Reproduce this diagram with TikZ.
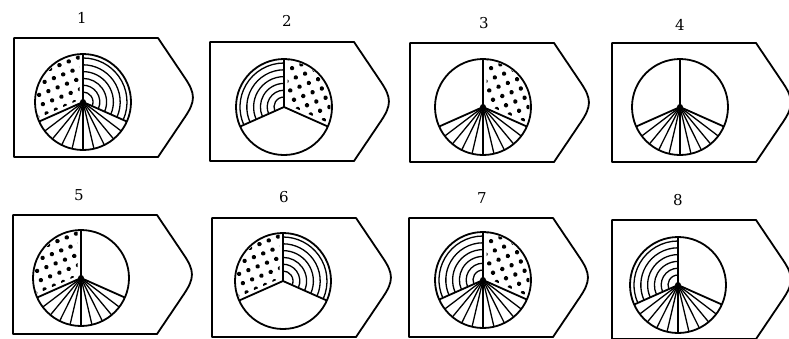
\documentclass[tikz,border=0pt]{standalone}
\usepackage{fontspec}
\setmainfont{DejaVu Serif}
\begin{document}
\tikzset{
  boxline/.style={line width=1.8pt, line join=round},
  pieline/.style={line width=1.8pt},
  thinline/.style={line width=1.3pt},
  lbl/.style={font=\fontsize{15}{18}\selectfont, inner sep=0pt},
}
\newcommand\panelbox[2]{%
  \draw[boxline] (#1,#2) -- ({#1+144},#2) -- ({#1+171},{#2+40})
    .. controls ({#1+181.6},{#2+55.8}) and ({#1+181.6},{#2+63.2}) .. ({#1+171},{#2+79})
    -- ({#1+144},{#2+119}) -- (#1,{#2+119}) -- cycle;}
\newcommand\dotgrid{%
  \begin{scope}[rotate=-22]
    \foreach \ii in {-6,...,6}{\foreach \jj in {-6,...,6}{\fill (\ii*10+2,\jj*10+3) circle (2.2);}}
  \end{scope}}
\newcommand\ulDots{\begin{scope}
  \clip (0,0) circle (46.5);
  \clip (-60,-60) rectangle (-3.5,60);
  \clip[rotate=-204] (-100,-100) rectangle (100,-3.5);
  \dotgrid\end{scope}}
\newcommand\urDots{\begin{scope}
  \clip (0,0) circle (46.5);
  \clip (3.5,-60) rectangle (60,60);
  \clip[rotate=24] (-100,3.5) rectangle (100,100);
  \dotgrid\end{scope}}
\newcommand\ulArcs{\foreach \rr in {10,16.8,23.6,30.4,37.2,44}{\draw[thinline] (90:\rr) arc[start angle=90,end angle=204,radius=\rr];}}
\newcommand\urArcs{\foreach \rr in {10,16.8,23.6,30.4,37.2,44}{\draw[thinline] (-24:\rr) arc[start angle=-24,end angle=90,radius=\rr];}}
\newcommand\botFan{\foreach \kk in {1,...,9}{\draw[thinline] (0,0) -- ({204+13.2*\kk}:48);}\fill (0,0) circle (3);}
\newcommand\pieframe{\draw[pieline] (0,0) circle (48); \draw[pieline] (90:48) -- (0,0) -- (204:48) (0,0) -- (-24:48);}
\begin{tikzpicture}[x=1pt,y=-1pt]
\useasboundingbox (0,0) rectangle (789,338);
\clip (0,0) rectangle (789,338);
% labels
\node[lbl] (l1) at (82,18) {1};
\node[lbl] (l2) at (287,21) {2};
\node[lbl] (l3) at (484,23) {3};
\node[lbl] (l4) at (680,25) {4};
\node[lbl] (l5) at (79,195) {5};
\node[lbl] (l6) at (284,197) {6};
\node[lbl] (l7) at (482,198) {7};
\node[lbl] (l8) at (678,200) {8};
% boxes
\panelbox{14}{38}
\panelbox{210}{42}
\panelbox{410}{43}
\panelbox{612}{43}
\panelbox{13}{215}
\panelbox{212}{218}
\panelbox{409}{218}
\panelbox{612}{220}
% pies
\begin{scope}[shift={(83,102)},yscale=-1]\ulDots\urArcs\botFan\pieframe\end{scope}
\begin{scope}[shift={(284,107)},yscale=-1]\ulArcs\urDots\pieframe\end{scope}
\begin{scope}[shift={(483,107)},yscale=-1]\urDots\botFan\pieframe\end{scope}
\begin{scope}[shift={(680,107)},yscale=-1]\botFan\pieframe\end{scope}
\begin{scope}[shift={(81,278)},yscale=-1]\ulDots\botFan\pieframe\end{scope}
\begin{scope}[shift={(283,281)},yscale=-1]\ulDots\urArcs\pieframe\end{scope}
\begin{scope}[shift={(483,280)},yscale=-1]\ulArcs\urDots\botFan\pieframe\end{scope}
\begin{scope}[shift={(678,285)},yscale=-1]\ulArcs\botFan\pieframe\end{scope}
\end{tikzpicture}
\end{document}
